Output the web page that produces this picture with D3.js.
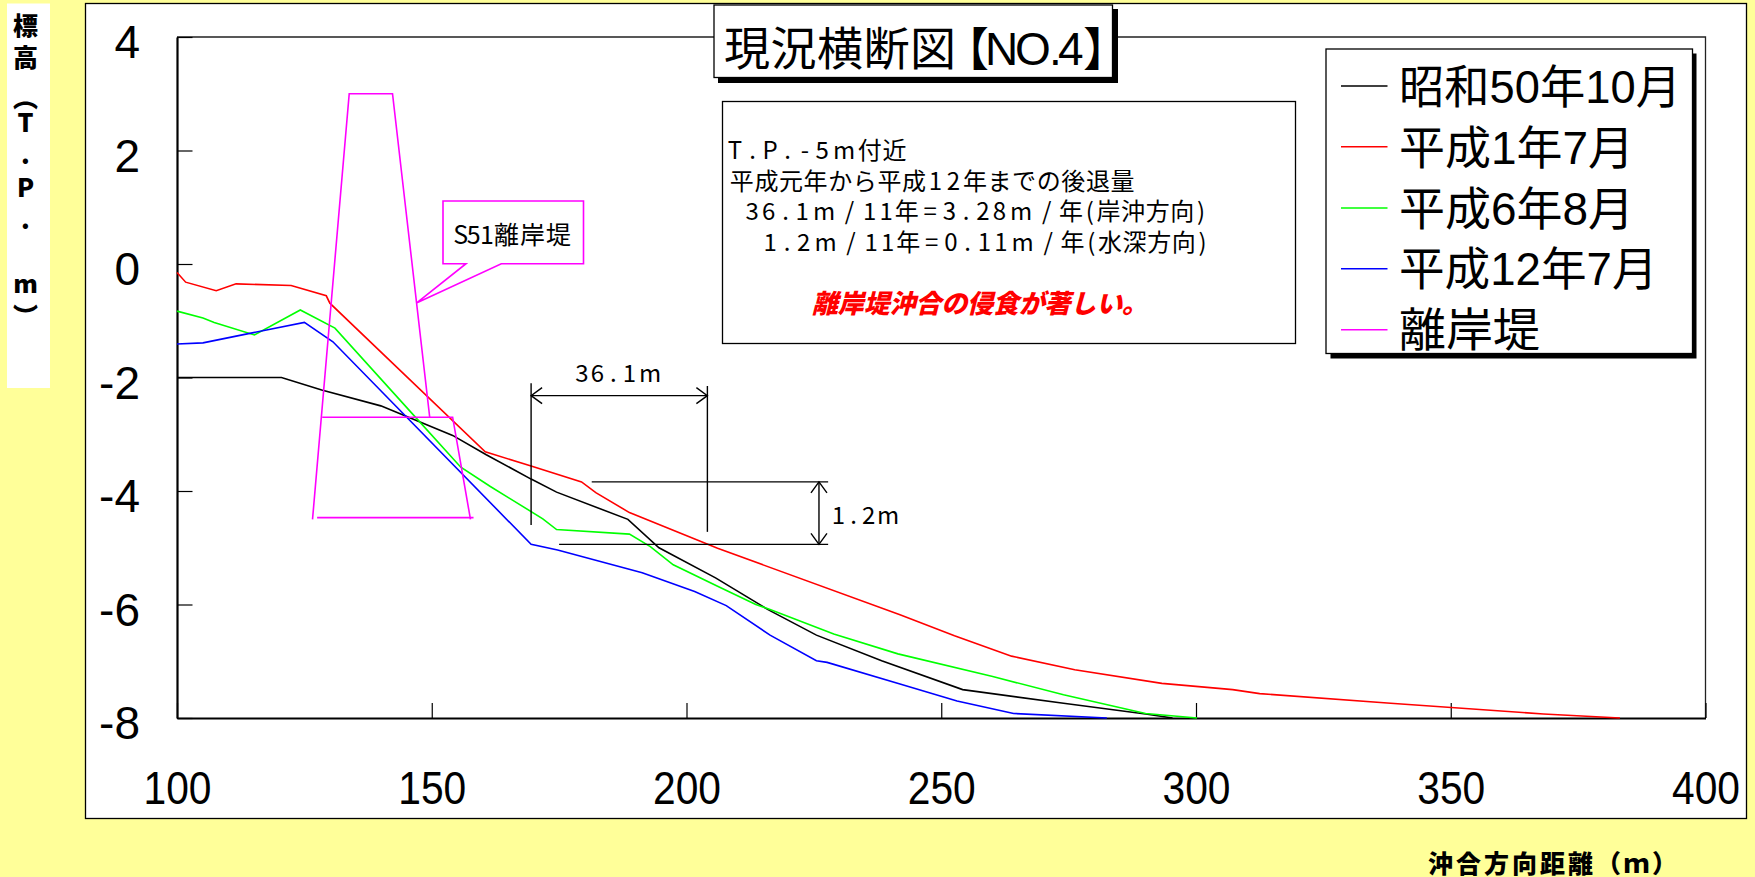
<!DOCTYPE html>
<html>
<head>
<meta charset="utf-8">
<script src="https://cdn.jsdelivr.net/npm/d3@7/dist/d3.min.js"></script>
<style>
html, body { margin: 0; padding: 0; background: #ffff99; overflow: hidden; }
text { font-family: "Liberation Sans", "Noto Sans CJK JP", sans-serif; fill: #000; }
text.jp { font-family: "Noto Sans CJK JP", sans-serif; }
text.narrow { font-family: "Liberation Sans Narrow", "Noto Sans CJK JP", sans-serif; }
</style>
</head>
<body>
<svg id="chart" width="1755" height="877"></svg>
<script>
// Profile readings, [distance offshore (m), elevation (T.P. m)].
var showa50 = [[100,-2],[120.5,-2],[128.4,-2.22],[140,-2.5],[154.1,-3.02],[160.7,-3.36],[169.5,-3.79],[174.5,-4.02],[188.5,-4.5],[194.6,-5],[205.7,-5.53],[216,-6.09],[225.5,-6.54],[238.3,-6.99],[254.2,-7.5],[274,-7.74],[290.1,-7.93],[295.4,-8]];
var heisei1 = [[100,-0.15],[101.7,-0.32],[107.7,-0.47],[111.6,-0.35],[122.4,-0.38],[129.3,-0.56],[130,-0.69],[160.5,-3.31],[169.5,-3.56],[179.4,-3.84],[182.2,-4.03],[188.8,-4.38],[206.1,-5.01],[241.9,-6.18],[252.6,-6.55],[263.8,-6.91],[276.2,-7.15],[293.3,-7.39],[307.2,-7.5],[312.5,-7.57],[338.2,-7.74],[368.2,-7.93],[383.2,-8]];
var heisei6 = [[100,-0.83],[105.1,-0.95],[107.3,-1.03],[115.2,-1.25],[124.2,-0.81],[131,-1.13],[146.7,-2.69],[155.7,-3.58],[161.5,-3.92],[171.8,-4.49],[174.5,-4.68],[188.8,-4.76],[192.9,-4.98],[197.4,-5.3],[206.1,-5.68],[213.6,-6],[216.4,-6.09],[228.9,-6.52],[241.5,-6.87],[260.1,-7.27],[274,-7.59],[290.1,-7.92],[300.2,-8]];
var heisei12 = [[100,-1.41],[105.1,-1.39],[113.3,-1.24],[125,-1.03],[130.6,-1.37],[169.5,-4.94],[174.7,-5.04],[191.3,-5.44],[201.6,-5.77],[207.8,-6.02],[216.4,-6.54],[225.5,-6.99],[227.6,-7.02],[241.9,-7.4],[253.1,-7.7],[264.2,-7.92],[282.5,-8]];
// Breakwater outline, one list per stroke.
var breakwater = [
    [[126.6,-4.5],[133.8,3],[142.3,3],[149.6,-2.7]],
    [[128.5,-2.7],[154.1,-2.7],[157.6,-4.5]],
    [[127.5,-4.47],[158.2,-4.47]]
];
// Dimension lines for the 36.1m and 1.2m call-outs.
var dimensionLines = [
    [[169.5,-2.1],[169.5,-4.6]],
    [[204.1,-2.15],[204.1,-4.72]],
    [[181.4,-3.84],[227.8,-3.84]],
    [[175,-4.94],[227.8,-4.94]]
];
var arrowH = [[169.5,-2.32],[204.1,-2.32]];
var arrowV = [[226,-3.84],[226,-4.94]];

var xTicks = [100,150,200,250,300,350,400];
var yTicks = [4,2,0,-2,-4,-6,-8];
var legendLabels = ["昭和50年10月","平成1年7月","平成6年8月","平成12年7月","離岸堤"];
var legendColors = ["#000000","#ff0000","#00ff00","#0000ff","#ff00ff"];
var infoLines = ["T.P.-5m付近","平成元年から平成12年までの後退量"," 36.1m/11年=3.28m/年(岸沖方向)","  1.2m/11年=0.11m/年(水深方向)"];
var noteText = "離岸堤沖合の侵食が著しい。";
var titleText = "現況横断図【NO.4】";
var yTitle = "標高︵T.P.m︶";
var xTitle = "沖合方向距離（ｍ）";
var calloutText = "S51離岸堤";

var svg = d3.select("#chart");
var left = 177, right = 1705.5, top_ = 37, bottom = 718;

var x = d3.scaleLinear().domain([100,400]).range([left,right]);
var y = d3.scaleLinear().domain([-8,4]).range([bottom,top_]);
var line = d3.line().x(function(d){ return x(d[0]); }).y(function(d){ return y(d[1]); });

// The old plotter font spaces ascii glyphs very loosely, so every character
// gets its own advance and is centred in that cell (text-anchor middle works
// per character once x is a list).
var asciiAdvance = {".":17, "m":27, "/":24, "=":22, "(":13, ")":13, "T":18, "P":18, "-":18, " ":18};
function cellCentres(str, x0, wide, scale){
    var pos = [], cx = x0;
    Array.from(str).forEach(function(c){
        var w = c.charCodeAt(0) < 128 ? (asciiAdvance[c] || 16.5) * scale : wide;
        pos.push(cx + w / 2);
        cx += w;
    });
    return pos.join(" ");
}

// Background panels.
svg.append("rect").attr("x",7).attr("y",3.5).attr("width",43).attr("height",384.5).attr("fill","#fff");
svg.append("rect").attr("x",85.5).attr("y",3.5).attr("width",1661).attr("height",815)
    .attr("fill","#fff").attr("stroke","#000").attr("stroke-width",1.3);

// Plot frame, top and right edges are thinner than the axes.
svg.append("path").attr("d","M"+left+","+top_+"H"+right+"V"+bottom)
    .attr("fill","none").attr("stroke","#222").attr("stroke-width",1.3);

var yAxis = d3.axisLeft(y).tickValues(yTicks).tickSize(-15.5).tickSizeOuter(0).tickPadding(37).tickFormat(String);
var xAxis = d3.axisBottom(x).tickValues(xTicks).tickSize(-15).tickSizeOuter(0).tickPadding(53).tickFormat(String);
var yG = svg.append("g").attr("transform","translate("+left+",0)").call(yAxis);
var xG = svg.append("g").attr("transform","translate(0,"+bottom+")").call(xAxis);
[yG, xG].forEach(function(g){
    g.select(".domain").attr("stroke","#000").attr("stroke-width",2.2);
    g.selectAll(".tick line").attr("stroke","#000").attr("stroke-width",1.2);
    g.selectAll(".tick text").style("font-family","Liberation Sans").style("font-size","46px");
});
yG.selectAll(".tick text").attr("dy","0.45em");
xG.selectAll(".tick text").attr("textLength",68).attr("lengthAdjust","spacingAndGlyphs");

// Profile lines.
var series = [showa50, heisei1, heisei6, heisei12];
svg.selectAll(".profile").data(series).enter().append("path")
    .attr("class","profile")
    .attr("d",line)
    .attr("fill","none")
    .attr("stroke-width",1.6)
    .attr("stroke",function(d,i){ return legendColors[i]; });

svg.selectAll(".bw").data(breakwater).enter().append("path")
    .attr("class","bw")
    .attr("d",line)
    .attr("fill","none")
    .attr("stroke",legendColors[4])
    .attr("stroke-width",1.6);

// Dimension lines and their open arrow heads.
svg.selectAll(".dim").data(dimensionLines.concat([arrowH,arrowV])).enter().append("path")
    .attr("class","dim")
    .attr("d",line)
    .attr("fill","none")
    .attr("stroke","#000")
    .attr("stroke-width",1.4);

function arrowHead(p, dx, dy){
    var px = x(p[0]), py = y(p[1]);
    svg.append("path")
        .attr("d","M"+(px+dx*11+dy*8)+","+(py+dy*11+dx*8)+"L"+px+","+py+"L"+(px+dx*11-dy*8)+","+(py+dy*11-dx*8))
        .attr("fill","none").attr("stroke","#000").attr("stroke-width",1.4);
}
arrowHead(arrowH[0],1,0);
arrowHead(arrowH[1],-1,0);
arrowHead(arrowV[0],0,1);
arrowHead(arrowV[1],0,-1);

svg.append("text").attr("class","narrow").attr("y",381.5).attr("font-size",24).attr("text-anchor","middle")
    .attr("x",cellCentres("36.1m",574,24,0.95)).text("36.1m");
svg.append("text").attr("class","narrow").attr("y",523.5).attr("font-size",24).attr("text-anchor","middle")
    .attr("x",cellCentres("1.2m",831,24,0.9)).text("1.2m");

// S51 call-out balloon.
svg.append("path")
    .attr("d","M443,201H583.5V263.7H501.3L417,302.7L466,263.7H443Z")
    .attr("fill","#fff").attr("stroke",legendColors[4]).attr("stroke-width",1.6);
svg.append("text").attr("class","narrow").attr("y",244).attr("font-size",25).attr("text-anchor","middle")
    .attr("x",cellCentres(calloutText,454,26,0.8)).text(calloutText);

// Info box.
svg.append("rect").attr("x",722.5).attr("y",101.5).attr("width",573).attr("height",242)
    .attr("fill","#fff").attr("stroke","#000").attr("stroke-width",1.3);
var infoBase = [159,190,220,250.5];
var infoStart = [726,729.5,726,726];
var infoScale = [1,1.1,1,1];
infoLines.forEach(function(t,i){
    svg.append("text").attr("class","narrow").attr("y",infoBase[i]).attr("font-size",24)
        .attr("text-anchor","middle").attr("xml:space","preserve")
        .attr("x",cellCentres(t,infoStart[i],24.6,infoScale[i])).text(t);
});
svg.append("text").attr("class","jp").attr("y",312.5).attr("font-size",26)
    .attr("font-weight",900).attr("font-style","italic").style("fill","#ff0000")
    .attr("x",812).attr("textLength",336).text(noteText);

// Title box, the glyph positions are set by hand because 【】 and NO.4 are
// much tighter in the reference than in any installed font.
svg.append("rect").attr("x",718).attr("y",9).attr("width",400).attr("height",74).attr("fill","#000");
svg.append("rect").attr("x",714).attr("y",5).attr("width",398.5).attr("height",72.5)
    .attr("fill","#fff").attr("stroke","#000").attr("stroke-width",1.3);
svg.append("text").attr("y",65).attr("font-size",46)
    .attr("x","724 770.5 817 863.5 910 943 985 1015 1049 1058 1083").text(titleText);

// Legend.
svg.append("rect").attr("x",1330.5).attr("y",53.5).attr("width",366).attr("height",305).attr("fill","#000");
svg.append("rect").attr("x",1326).attr("y",49).attr("width",366.5).attr("height",304.5)
    .attr("fill","#fff").attr("stroke","#000").attr("stroke-width",1.3);
var legendLineY = [86,146.7,208,268.7,329.7];
var legendBase = [103,164,224.5,285,346];
legendLabels.forEach(function(t,i){
    svg.append("line").attr("x1",1341).attr("x2",1387.5).attr("y1",legendLineY[i]).attr("y2",legendLineY[i])
        .attr("stroke",legendColors[i]).attr("stroke-width",1.4);
    var w = Array.from(t).reduce(function(a,c){ return a + (c.charCodeAt(0) < 128 ? 23.5 : 47); },0);
    svg.append("text").attr("x",1399).attr("y",legendBase[i]).attr("font-size",46)
        .attr("textLength",w).attr("lengthAdjust","spacingAndGlyphs").text(t);
});

// Axis titles. The y title is stacked by hand, one baseline per character.
svg.append("text").attr("class","jp").attr("font-weight",900).attr("font-size",25)
    .attr("text-anchor","middle")
    .attr("x",Array.from(yTitle).map(function(){ return 25.5; }).join(" "))
    .attr("y","35 67 107 131.7 164 196.7 228.5 292.7 326")
    .text(yTitle);
svg.append("text").attr("class","jp").attr("font-weight",900).attr("font-size",25)
    .attr("x",1428).attr("y",873).style("letter-spacing","3px").text(xTitle);
</script>
</body>
</html>
